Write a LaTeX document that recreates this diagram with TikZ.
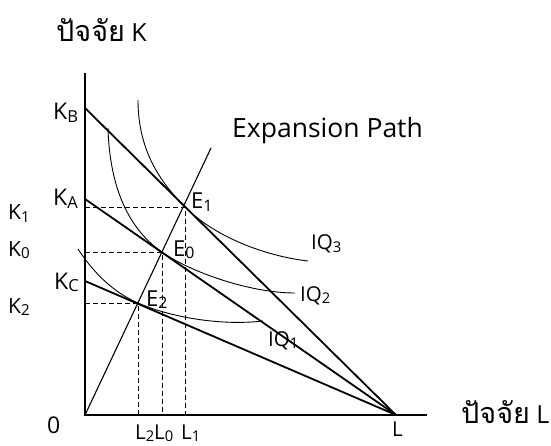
\documentclass[tikz,border=0pt]{standalone}
\usepackage{fontspec}
\setmainfont{Open Sans}
\newfontfamily\thaifont[Script=Thai,Scale=1.15]{Loma}
\newcommand\subs[1]{\raisebox{-0.12em}{\scalebox{0.72}{#1}}}
\tikzset{
  axisline/.style={line width=1.1pt},
  budget/.style={line width=1.8pt},
  isoq/.style={line width=0.9pt},
  epath/.style={line width=1.1pt},
  guide/.style={line width=0.9pt, dash pattern=on 5pt off 3pt},
  lab/.style={inner sep=0pt, anchor=base west, font=\fontsize{20.5}{24}\selectfont},
  klab/.style={lab, font=\fontsize{23}{26}\selectfont},
  slab/.style={lab, font=\fontsize{21}{24}\selectfont},
  elab/.style={lab, font=\fontsize{22}{26}\selectfont},
  biglab/.style={inner sep=0pt, anchor=base west, font=\fontsize{25}{29}\selectfont},
}
\begin{document}
\begin{tikzpicture}[x=1pt,y=-1pt]
\useasboundingbox (0,0) rectangle (551,446);
% axes
\coordinate (O) at (85,415);
\coordinate (Ktop) at (85,73);
\coordinate (Lend) at (427,415);
\draw[axisline] (Ktop) -- (O) -- (Lend);
% points
\coordinate (KB) at (85,108);
\coordinate (KA) at (85,199);
\coordinate (KC) at (85,281);
\coordinate (Lp) at (396,415);
\coordinate (E1) at (185,207);
\coordinate (E0) at (162,252);
\coordinate (E2) at (138,303);
\coordinate (Ptop) at (211,148);
% guides
\coordinate (K1a) at (85,207);
\coordinate (K0a) at (85,252);
\coordinate (K2a) at (85,303);
\coordinate (L1a) at (185,415);
\coordinate (L0a) at (162,415);
\coordinate (L2a) at (138,415);
\draw[guide] (K1a) -- (E1) -- (L1a);
\draw[guide] (K0a) -- (E0) -- (L0a);
\draw[guide] (K2a) -- (E2) -- (L2a);
% budget lines
\draw[budget] (KB) -- (Lp);
\draw[budget] (KA) -- (Lp);
\draw[budget] (KC) -- (Lp);
% expansion path
\draw[epath] (O) -- (Ptop);
% isoquants
\coordinate (I3s) at (138,100);
\coordinate (I3e) at (308,261);
\coordinate (I2s) at (108,128);
\coordinate (I2e) at (295,293);
\coordinate (I1s) at (78,249);
\coordinate (I1e) at (263,321);
\draw[isoq] (I3s) .. controls (138,150) and (160,182) .. (E1)
            .. controls (215,237) and (265,256) .. (I3e);
\draw[isoq] (I2s) .. controls (110,200) and (137,235) .. (E0)
            .. controls (190,272) and (250,293) .. (I2e);
\draw[isoq] (I1s) .. controls (95,275) and (115,293) .. (E2)
            .. controls (170,317) and (220,326) .. (I1e);
% labels
\node[biglab] (tK) at (56,42) {{\thaifont ปัจจัย} K};
\node[biglab] (tL) at (461,423) {{\thaifont ปัจจัย} L};
\node[inner sep=0pt, anchor=base west, font=\fontsize{26.5}{30}\selectfont] (tEP) at (232,138) {Expansion Path};
\node[klab] (lKB) at (53,120) {K\subs{B}};
\node[klab] (lKA) at (53,206) {K\subs{A}};
\node[klab] (lKC) at (54,289) {K\subs{C}};
\node[slab] (lK1) at (8,220) {K\subs{1}};
\node[slab] (lK0) at (8,256) {K\subs{0}};
\node[slab] (lK2) at (8,313) {K\subs{2}};
\node[klab] (l0) at (47,433) {0};
\node[lab] (lL2) at (135,439) {L\subs{2}};
\node[lab] (lL0) at (154,439) {L\subs{0}};
\node[lab] (lL1) at (181,439) {L\subs{1}};
\node[lab] (lL) at (392,436) {L};
\node[elab] (lE1) at (191,209) {E\subs{1}};
\node[elab] (lE0) at (173,256) {E\subs{0}};
\node[elab] (lE2) at (146,306) {E\subs{2}};
\node[lab] (lIQ3) at (311,250) {IQ\subs{3}};
\node[lab] (lIQ2) at (300,301) {IQ\subs{2}};
\node[lab] (lIQ1) at (268,346) {IQ\subs{1}};
\end{tikzpicture}
\end{document}
